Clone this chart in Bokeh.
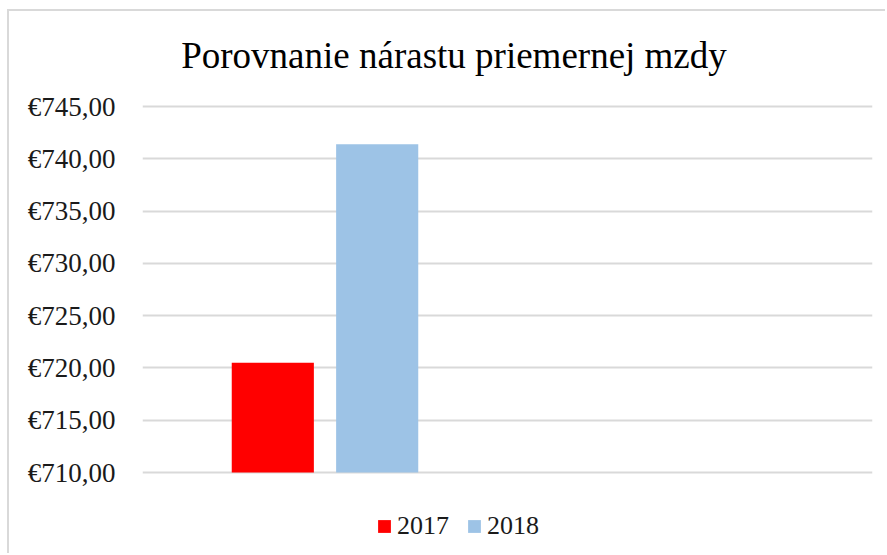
from bokeh.plotting import figure
from bokeh.models import (ColumnDataSource, FactorRange, FixedTicker, CustomJSTickFormatter,
                          Legend, LegendItem, Label, Range1d)
from bokeh.transform import dodge
from bokeh.embed import file_html
from bokeh.resources import INLINE

# ---- data ----
title_text = "Porovnanie nárastu priemernej mzdy"
categories = ["A", "B"]          # second category is empty in the original
series_names = ["2017", "2018"]
series_values = [720.5, 741.4]
series_colors = ["#ff0000", "#9dc3e6"]
y_ticks = [710, 715, 720, 725, 730, 735, 740, 745]

FONT = "Liberation Serif"

# plot area geometry (pixels inside the figure)
W, H = 878, 544
FRAME_LEFT, FRAME_RIGHT = 133, 863
Y_TOP_PX, Y_BOT_PX = 95, 461          # pixel rows of first / last tick
y_lo, y_hi = y_ticks[0], y_ticks[-1]
ppu = (Y_BOT_PX - Y_TOP_PX) / (y_hi - y_lo)
y_start = y_lo - (H - Y_BOT_PX) / ppu
y_end = y_hi + Y_TOP_PX / ppu

p = figure(width=W, height=H, output_backend="svg", toolbar_location=None,
           x_range=FactorRange(factors=categories), y_range=Range1d(y_start, y_end),
           min_border_left=FRAME_LEFT, min_border_right=W - FRAME_RIGHT, min_border_top=0,
           min_border_bottom=0, outline_line_color=None, title=None,
           styles={"border-left": "2px solid #d9d9d9", "border-top": "2px solid #d9d9d9",
                   "margin-left": "7px", "margin-top": "9px"})

offsets = [-0.143, 0.143]
renderers = []
for name, val, col, off in zip(series_names, series_values, series_colors, offsets):
    src = ColumnDataSource(dict(cat=[categories[0]], top=[val]))
    r = p.vbar(x=dodge("cat", off, range=p.x_range), top="top", bottom=y_lo, width=0.225,
               source=src, fill_color=col, line_color=None)
    renderers.append((name, r))

p.xaxis.visible = False
p.xgrid.grid_line_color = None
p.ygrid.grid_line_color = "#d9d9d9"
p.ygrid.grid_line_width = 2

ya = p.yaxis[0]
ya.ticker = FixedTicker(ticks=y_ticks, minor_ticks=[])
ya.formatter = CustomJSTickFormatter(code="return '\u20ac' + tick.toFixed(2).replace('.', ',');")
ya.axis_line_color = None
ya.major_tick_line_color = None
ya.minor_tick_line_color = None
ya.major_tick_out = 0
ya.major_tick_in = 0
ya.major_label_standoff = 27
ya.major_label_text_font = FONT
ya.major_label_text_font_size = "27px"
ya.major_label_text_color = "#1a1a1a"

title = Label(x=311.5, y=H - 44, x_units="screen", y_units="screen", text=title_text,
              text_align="center", text_baseline="alphabetic", text_font=FONT,
              text_font_size="37px", text_color="#000000")
p.add_layout(title)

legend = Legend(items=[LegendItem(label=n, renderers=[r]) for n, r in renderers],
                orientation="horizontal", location=(234, 14),
                glyph_width=16, glyph_height=16, label_standoff=5, spacing=17,
                padding=0, margin=0, border_line_color=None, background_fill_alpha=0,
                label_text_font=FONT, label_text_font_size="26px",
                label_text_color="#1a1a1a", label_height=30)
p.add_layout(legend)

open("out.html", "w").write(file_html(p, INLINE))
